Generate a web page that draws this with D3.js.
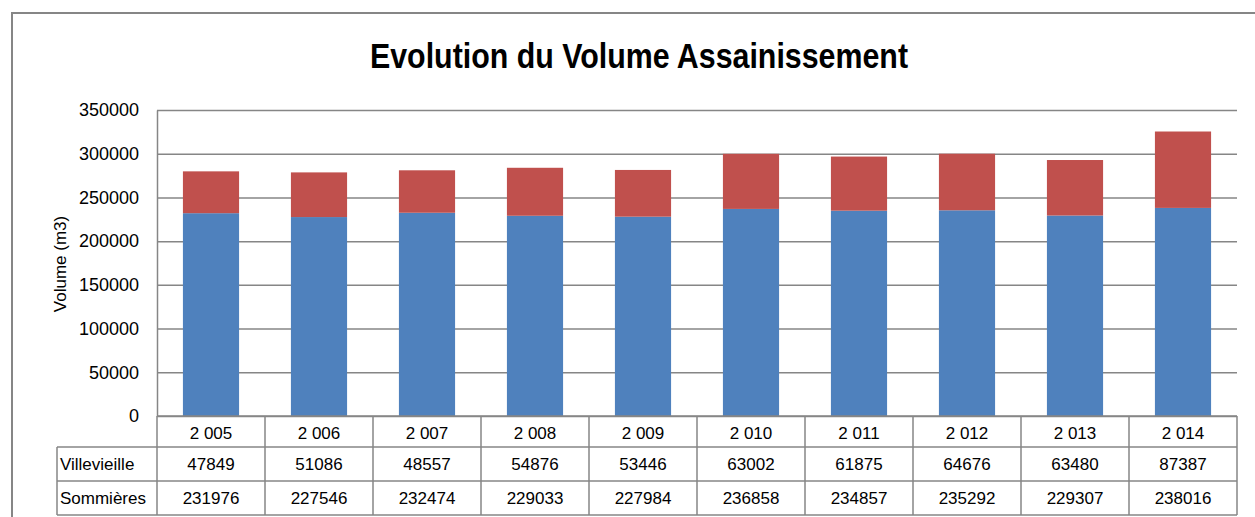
<!DOCTYPE html>
<html>
<head>
<meta charset="utf-8">
<script src="https://cdn.jsdelivr.net/npm/d3@7"></script>
<style>
  body { margin: 0; background: #fff; }
  svg text { font-family: "Liberation Sans", Arial, sans-serif; fill: #000; }
</style>
</head>
<body>
<div id="chart"></div>
<script>
// data
var years = ["2005", "2006", "2007", "2008", "2009", "2010", "2011", "2012", "2013", "2014"];
var yearLabels = ["2 005", "2 006", "2 007", "2 008", "2 009", "2 010", "2 011", "2 012", "2 013", "2 014"];
var villevieille = [47849, 51086, 48557, 54876, 53446, 63002, 61875, 64676, 63480, 87387];
var sommieres = [231976, 227546, 232474, 229033, 227984, 236858, 234857, 235292, 229307, 238016];
var seriesNames = ["Sommières", "Villevieille"];
var yTicks = [0, 50000, 100000, 150000, 200000, 250000, 300000, 350000];

function init() {
    createChart();
}

function createChart() {
    var width = 1255, height = 517;
    var left = 157, right = 1237, top = 110, bottom = 416;
    var rowH = [31, 34, 34];
    var grey = "#868686";

    var svg = d3.select("div#chart").append("svg")
        .attr("width", width)
        .attr("height", height);

    // outer frame
    svg.append("rect")
        .attr("x", 12).attr("y", 13)
        .attr("width", width).attr("height", height)
        .attr("fill", "none")
        .attr("stroke", grey)
        .attr("stroke-width", 2);

    // title
    svg.append("text")
        .attr("x", 639).attr("y", 68)
        .attr("text-anchor", "middle")
        .attr("font-size", 35)
        .attr("font-weight", "bold")
        .attr("textLength", 538)
        .attr("lengthAdjust", "spacingAndGlyphs")
        .text("Evolution du Volume Assainissement");

    var y = d3.scaleLinear().domain([0, 350000]).range([bottom, top]);
    var x = d3.scaleBand().domain(years).range([left, right])
        .paddingInner(0.48).paddingOuter(0.24);
    var col = d3.scaleBand().domain(years).range([left, right]);

    // y axis + gridlines
    var yAxis = d3.axisLeft(y)
        .tickValues(yTicks)
        .tickSize(-(right - left))
        .tickSizeOuter(0)
        .tickPadding(18)
        .tickFormat(d3.format("d"));

    var gy = svg.append("g")
        .attr("transform", "translate(" + left + ",0)")
        .call(yAxis);
    gy.selectAll("line").attr("stroke", grey).attr("stroke-width", 1.5);
    gy.select(".domain").attr("stroke", grey).attr("stroke-width", 1.5);
    gy.selectAll("text")
        .attr("font-size", 18)
        .attr("font-family", "Liberation Sans, Arial, sans-serif")
        .attr("fill", "#000");

    // y label
    svg.append("text")
        .attr("transform", "translate(66,264) rotate(-90)")
        .attr("text-anchor", "middle")
        .attr("font-size", 17)
        .text("Volume (m3)");

    // stacked bars
    var rows = years.map(function(d, i) {
        return { year: d, "Sommières": sommieres[i], "Villevieille": villevieille[i] };
    });
    var stack = d3.stack().keys(seriesNames)(rows);
    var color = d3.scaleOrdinal().domain(seriesNames).range(["#4f81bd", "#c0504d"]);

    svg.append("g").selectAll("g")
        .data(stack)
        .enter().append("g")
        .attr("fill", function(d) { return color(d.key); })
        .selectAll("rect")
        .data(function(d) { return d; })
        .enter().append("rect")
        .attr("x", function(d) { return x(d.data.year); })
        .attr("y", function(d) { return y(d[1]); })
        .attr("width", x.bandwidth())
        .attr("height", function(d) { return y(d[0]) - y(d[1]); });

    // data table
    var y0 = bottom, y1 = y0 + rowH[0], y2 = y1 + rowH[1], y3 = y2 + rowH[2];
    var tableLeft = 57;
    var t = svg.append("g").attr("stroke", grey).attr("stroke-width", 1.5);

    t.append("line").attr("x1", left).attr("x2", right).attr("y1", y0).attr("y2", y0);
    [y1, y2, y3].forEach(function(yy) {
        t.append("line").attr("x1", tableLeft).attr("x2", right).attr("y1", yy).attr("y2", yy);
    });
    t.append("line").attr("x1", tableLeft).attr("x2", tableLeft).attr("y1", y1).attr("y2", y3);
    years.forEach(function(d) {
        t.append("line").attr("x1", col(d)).attr("x2", col(d)).attr("y1", y0).attr("y2", y3);
    });
    t.append("line").attr("x1", right).attr("x2", right).attr("y1", y0).attr("y2", y3);

    var cx = function(d) { return col(d) + col.bandwidth() / 2; };

    svg.append("g").selectAll("text")
        .data(years)
        .enter().append("text")
        .attr("x", cx)
        .attr("y", y0 + 23)
        .attr("text-anchor", "middle")
        .attr("font-size", 17)
        .text(function(d, i) { return yearLabels[i]; });

    var tableRows = [
        { name: "Villevieille", values: villevieille, base: y1 + 23 },
        { name: "Sommières", values: sommieres, base: y2 + 23 }
    ];
    tableRows.forEach(function(r) {
        svg.append("text")
            .attr("x", 60).attr("y", r.base)
            .attr("font-size", 17)
            .text(r.name);
        svg.append("g").selectAll("text")
            .data(years)
            .enter().append("text")
            .attr("x", cx)
            .attr("y", r.base)
            .attr("text-anchor", "middle")
            .attr("font-size", 17)
            .text(function(d, i) { return r.values[i]; });
    });
}

init();
</script>
</body>
</html>
